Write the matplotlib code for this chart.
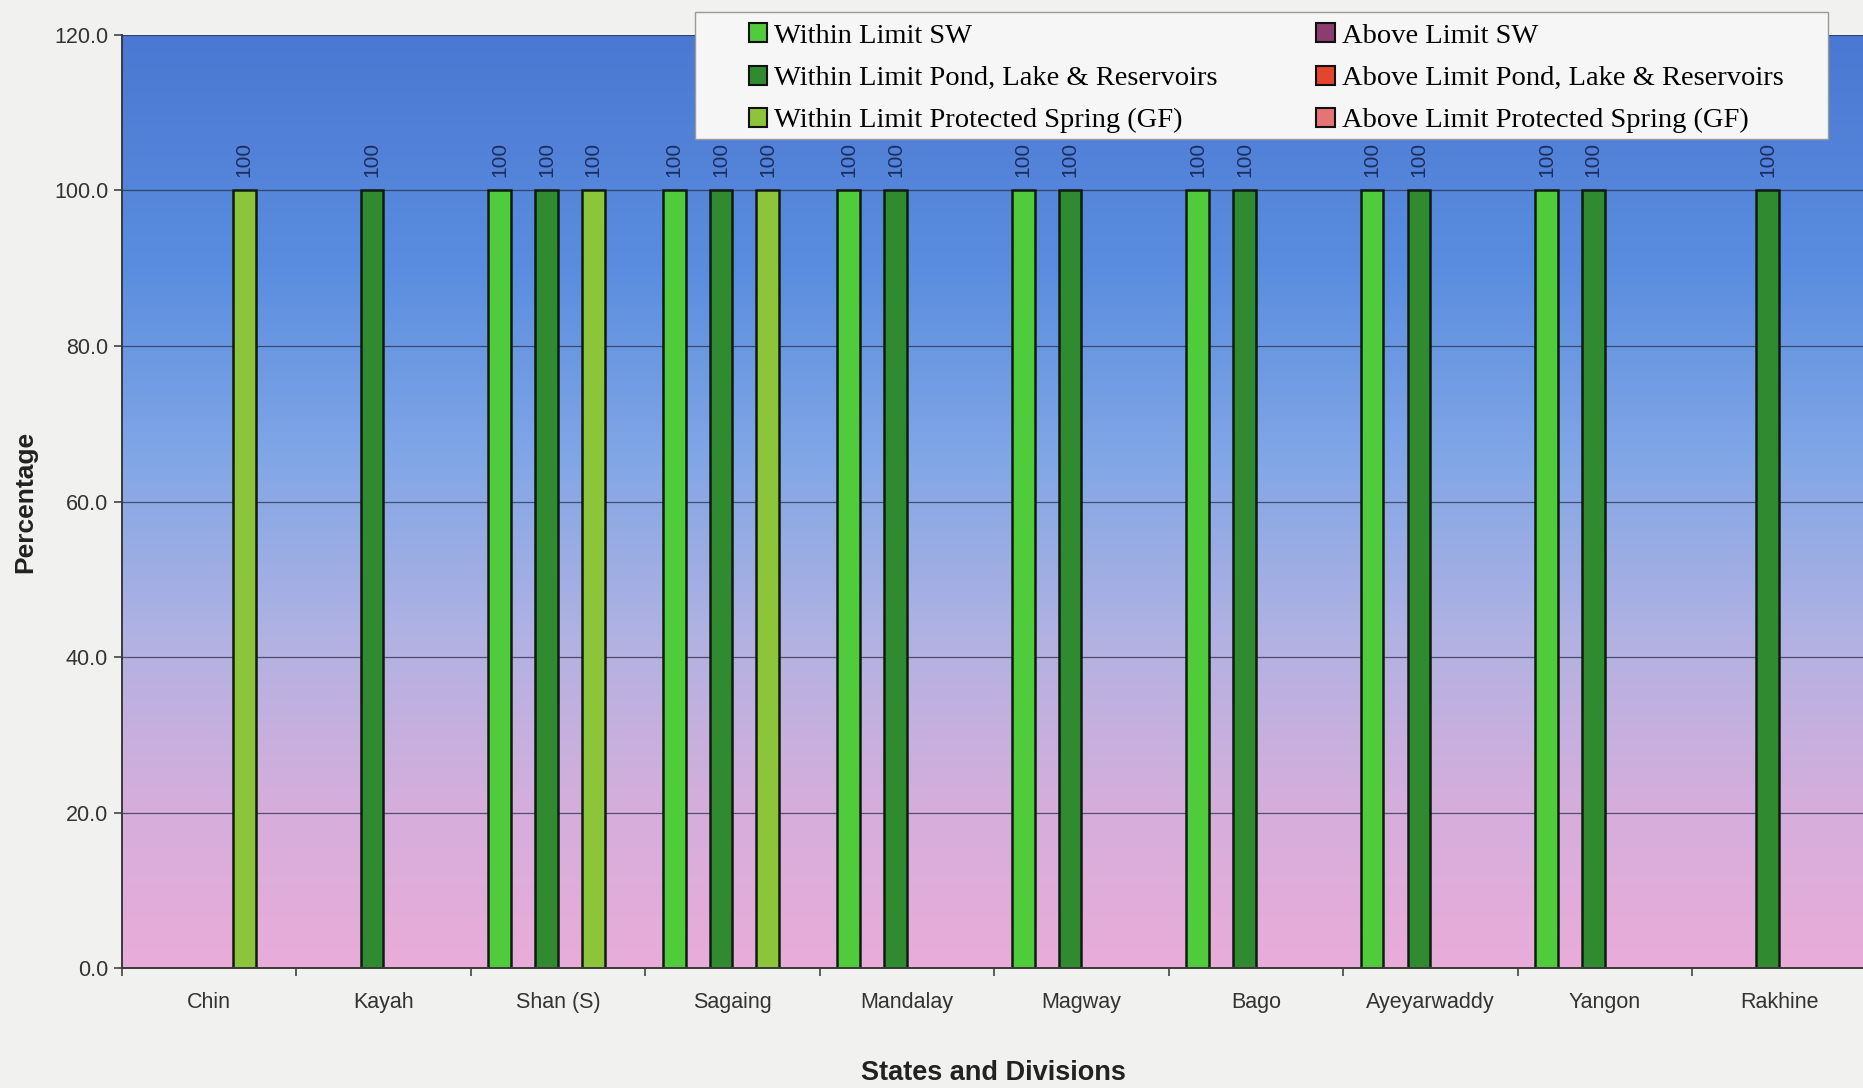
import numpy as np
import matplotlib
matplotlib.use("Agg")
import matplotlib.pyplot as plt
from matplotlib.colors import LinearSegmentedColormap
from matplotlib.patches import Patch, Rectangle

# ---- data ----
regions = ["Chin", "Kayah", "Shan (S)", "Sagaing", "Mandalay", "Magway",
           "Bago", "Ayeyarwaddy", "Yangon", "Rakhine"]
nan = np.nan
within_sw = [nan, nan, 100, 100, 100, 100, 100, 100, 100, nan]
above_sw = [nan] * 10
within_pond = [nan, 100, 100, 100, 100, 100, 100, 100, 100, 100]
above_pond = [nan] * 10
within_spring = [100, nan, 100, 100, nan, nan, nan, nan, nan, nan]
above_spring = [nan] * 10

series_names = ["Within Limit SW", "Above Limit SW",
                "Within Limit Pond, Lake & Reservoirs", "Above Limit Pond, Lake & Reservoirs",
                "Within Limit Protected Spring (GF)", "Above Limit Protected Spring (GF)"]
series_vals = [within_sw, above_sw, within_pond, above_pond, within_spring, above_spring]
series_colors = ["#4fcb3c", "#8a3d6e", "#2f8a30", "#e4452e", "#8cc43a", "#e57474"]

y_ticks = [0, 20, 40, 60, 80, 100, 120]

# ---- figure ----
fig = plt.figure(figsize=(18.63, 10.88), dpi=100, facecolor="#f1f1ef")
ax = fig.add_axes([0.0655, 0.110, 0.9365, 0.858])

# vertical blue-to-pink background gradient
grad = LinearSegmentedColormap.from_list(
    "bg", [(0.0, "#e9acd9"), (0.18, "#d4aedc"), (0.35, "#b2b2e2"),
           (0.55, "#80a6e6"), (0.75, "#5a8ddf"), (1.0, "#4a78d2")])
ax.imshow(np.linspace(0, 1, 256).reshape(-1, 1), cmap=grad, origin="lower",
          extent=[0, 1, 0, 1], transform=ax.transAxes, aspect="auto", zorder=0)

n_series = len(series_vals)
slot = 0.134
x = np.arange(len(regions))
for i, (name, vals, col) in enumerate(zip(series_names, series_vals, series_colors)):
    offs = (i - (n_series - 1) / 2) * slot
    v = np.array(vals, dtype=float)
    ax.bar(x + offs, v, width=slot * 0.97, color=col, edgecolor="#101a10",
           linewidth=1.8, zorder=3, label=name)
    for xi, val in zip(x + offs, v):
        if not np.isnan(val):
            ax.annotate(f"{val:.0f}", (xi, val), xytext=(0, 10), textcoords="offset points",
                        rotation=90, ha="center", va="bottom", fontsize=15,
                        color="#1c2d5e", family="Liberation Sans", zorder=4)

ax.set_xlim(-0.5, len(regions) - 0.5)
ax.set_ylim(0, 120)
ax.set_yticks(y_ticks)
ax.set_yticklabels([f"{t:.1f}" for t in y_ticks], fontsize=15.5,
                   family="Liberation Sans", color="#333333")
ax.set_xticks(x)
ax.set_xticklabels(regions, fontsize=15.5, family="Liberation Sans", color="#333333")
ax.set_xticks(np.arange(len(regions) + 1) - 0.5, minor=True)
ax.tick_params(axis="x", which="major", length=0, pad=17)
ax.tick_params(axis="x", which="minor", length=6, color="#444444", width=1.2)
ax.tick_params(axis="y", length=6, color="#444444", width=1.2, pad=4)

for yv in y_ticks[1:]:
    ax.axhline(yv, color="#28304a", linewidth=0.9, alpha=0.75, zorder=1)

for side in ["top", "right"]:
    ax.spines[side].set_visible(False)
for side in ["left", "bottom"]:
    ax.spines[side].set_color("#3a3a3a")
    ax.spines[side].set_linewidth(1.4)
    ax.spines[side].set_zorder(5)

ax.set_ylabel("Percentage", fontsize=19, fontweight="bold",
              family="Liberation Sans", color="#222222", labelpad=12)
fig.text(0.533, 0.0142, "States and Divisions", fontsize=19.5, fontweight="bold",
         family="Liberation Sans", color="#222222", ha="center", va="center")

# legend box with within-limit series on the left, above-limit on the right
fig.add_artist(Rectangle((0.373, 0.872), 0.608, 0.117, transform=fig.transFigure,
                         facecolor="#f6f6f6", edgecolor="#9a9a9a", linewidth=1.0,
                         zorder=9))
leg_kw = dict(loc="upper left", frameon=False,
              prop={"family": "Liberation Serif", "size": 20.5},
              handlelength=0.65, handleheight=0.65, handletextpad=0.25,
              labelspacing=0.59, borderpad=0, borderaxespad=0)
for anchor_x, idxs in [(0.4018, [0, 2, 4]), (0.7066, [1, 3, 5])]:
    handles = [Patch(facecolor=series_colors[k], edgecolor="#111111", linewidth=1.5)
               for k in idxs]
    leg = fig.legend(handles, [series_names[k] for k in idxs],
                     bbox_to_anchor=(anchor_x, 0.9786), **leg_kw)
    leg.set_zorder(10)

fig.savefig("out.png", dpi=100, facecolor=fig.get_facecolor())
